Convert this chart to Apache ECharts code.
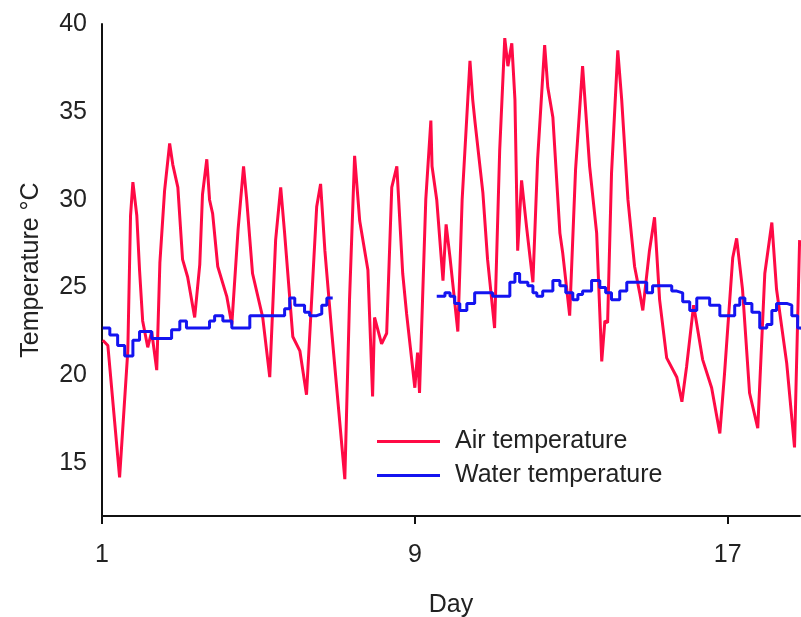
<!DOCTYPE html>
<html>
<head>
<meta charset="utf-8">
<script src="https://cdn.jsdelivr.net/npm/echarts@6/dist/echarts.min.js"></script>
<style>
  html, body { margin: 0; padding: 0; background: #fff; }
  #chart { width: 801px; height: 617px; }
</style>
</head>
<body>
<div id="chart"></div>
<script>
const dayTicks = [1, 9, 17]
const tempTicks = [15, 20, 25, 30, 35, 40]

// air temperature (day, °C)
const airDays = [1.02, 1.15, 1.45, 1.66, 1.73, 1.79, 1.89, 1.96, 2.04, 2.17, 2.27, 2.40, 2.48, 2.60, 2.73, 2.81, 2.94, 3.06, 3.19, 3.37,
  3.50, 3.57, 3.68, 3.75, 3.83, 3.96, 4.19, 4.32, 4.48, 4.62, 4.70, 4.85, 5.11, 5.29, 5.44, 5.57, 5.67, 5.88, 6.06, 6.23,
  6.49, 6.59, 6.70, 6.87, 7.21, 7.33, 7.46, 7.59, 7.80, 7.92, 7.97, 8.15, 8.28, 8.41, 8.54, 8.69, 8.79, 9.00, 9.07, 9.12,
  9.28, 9.41, 9.44, 9.56, 9.72, 9.80, 9.90, 10.10, 10.21, 10.41, 10.48, 10.54, 10.74, 10.86, 11.04, 11.17, 11.30, 11.38, 11.48, 11.56,
  11.63, 11.73, 11.86, 12.02, 12.14, 12.32, 12.40, 12.53, 12.71, 12.78, 12.96, 13.11, 13.29, 13.47, 13.65, 13.78, 13.86, 13.93, 14.03, 14.19,
  14.29, 14.45, 14.62, 14.75, 14.83, 15.00, 15.13, 15.26, 15.44, 15.70, 15.83, 15.95, 16.13, 16.36, 16.59, 16.80, 16.92, 17.13, 17.23, 17.38,
  17.56, 17.77, 17.95, 18.13, 18.25, 18.51, 18.71, 18.84]
const airTemps = [22.0, 21.7, 14.2, 21.4, 29.1, 31.0, 29.1, 26.0, 23.1, 21.6, 22.5, 20.3, 26.4, 30.5, 33.2, 32.0, 30.7, 26.6, 25.6, 23.3,
  26.3, 30.3, 32.3, 30.0, 29.2, 26.2, 24.5, 22.9, 28.3, 31.9, 30.0, 25.8, 23.3, 19.9, 27.7, 30.7, 28.1, 22.2, 21.4, 18.9,
  29.6, 30.9, 27.1, 22.6, 14.1, 24.3, 32.5, 28.8, 26.0, 18.8, 23.3, 21.8, 22.4, 30.7, 31.9, 25.8, 23.5, 19.3, 21.3, 19.0,
  30.0, 34.5, 31.9, 30.0, 25.4, 28.6, 26.7, 22.5, 30.0, 37.9, 35.7, 34.4, 30.4, 26.6, 22.7, 32.8, 39.2, 37.6, 38.9, 35.7,
  27.1, 31.1, 28.4, 25.3, 32.3, 38.8, 36.4, 34.7, 28.1, 27.0, 23.4, 31.7, 37.6, 31.9, 28.1, 20.8, 23.1, 23.0, 31.5, 38.5,
  35.7, 30.0, 26.2, 24.7, 23.7, 27.1, 29.0, 24.3, 21.0, 19.9, 18.5, 20.5, 24.0, 20.9, 19.3, 16.7, 20.1, 26.7, 27.8, 24.9,
  19.0, 17.0, 25.8, 28.7, 24.9, 20.7, 15.9, 27.7]

// water temperature, stepped logger readings; null marks the gap in the record
const waterDays = [1.02, 1.20, 1.40, 1.58, 1.79, 1.96, 2.27, 2.78, 2.99, 3.16, 3.63, 3.75, 3.88, 4.09, 4.32, 4.78, 5.54, 5.67, 5.80, 5.93,
  6.18, 6.31, 6.49, 6.62, 6.75, 6.90, 6.91,
  9.56, 9.77, 9.90, 10.02, 10.15, 10.33, 10.53, 10.91, 10.99, 11.35, 11.43, 11.56, 11.68, 11.89, 12.02, 12.12, 12.27, 12.53, 12.71,
  12.86, 13.04, 13.17, 13.29, 13.52, 13.73, 13.88, 14.03, 14.24, 14.42, 14.93, 15.08, 15.57, 15.70, 15.85, 16.03, 16.21, 16.54, 16.80,
  17.18, 17.31, 17.44, 17.62, 17.82, 18.00, 18.13, 18.25, 18.51, 18.64, 18.79, 18.90]
const waterTemps = [22.7, 22.3, 21.7, 21.1, 22.0, 22.5, 22.1, 22.6, 23.1, 22.7, 22.7, 23.1, 23.4, 23.1, 22.7, 23.4, 23.4, 23.8, 24.4, 24.0,
  23.6, 23.4, 23.5, 24.0, 24.4, 24.4, null,
  24.5, 24.7, 24.5, 24.1, 23.7, 24.1, 24.7, 24.7, 24.5, 24.5, 25.3, 25.8, 25.3, 25.1, 24.7, 24.5, 24.8, 25.4, 25.1,
  24.7, 24.3, 24.6, 24.8, 25.4, 25.0, 24.7, 24.3, 24.8, 25.3, 24.7, 25.1, 24.8, 24.7, 24.2, 23.7, 24.4, 24.0, 23.4,
  24.0, 24.4, 24.1, 23.6, 22.7, 22.9, 23.7, 24.1, 24.0, 23.4, 22.7, 22.6]

const FONT = "'Liberation Sans', Arial, sans-serif"
const chart = echarts.init(document.getElementById('chart'))

const option = {
  animation: false,
  backgroundColor: '#fff',
  textStyle: { fontFamily: FONT },
  grid: { left: 102, right: 1, top: 24, bottom: 101, outerBoundsMode: 'none', containLabel: false },
  legend: {
    orient: 'vertical',
    left: 372,
    top: 424,
    itemWidth: 63,
    itemHeight: 3,
    itemGap: 9,
    icon: 'rect',
    textStyle: { fontSize: 25, color: '#222', fontFamily: FONT, padding: [0, 0, 0, 10] },
    data: ['Air temperature', 'Water temperature']
  },
  xAxis: {
    type: 'value',
    min: 1,
    max: 18.85,
    name: 'Day',
    nameLocation: 'middle',
    nameGap: 77,
    nameTextStyle: { fontSize: 25, color: '#222', fontFamily: FONT },
    axisLine: { lineStyle: { color: '#111', width: 2 } },
    axisTick: { show: true, length: 8, lineStyle: { color: '#111', width: 2 }, customValues: dayTicks },
    axisLabel: { fontSize: 25, color: '#222', margin: 27, fontFamily: FONT, customValues: dayTicks },
    splitLine: { show: false }
  },
  yAxis: {
    type: 'value',
    min: 12,
    max: 40,
    name: 'Temperature °C',
    nameLocation: 'middle',
    nameGap: 58,
    nameTextStyle: { fontSize: 25, color: '#222', fontFamily: FONT },
    axisLine: { show: true, lineStyle: { color: '#111', width: 2 } },
    axisTick: { show: false },
    axisLabel: { fontSize: 25, color: '#222', margin: 15, fontFamily: FONT, customValues: tempTicks },
    splitLine: { show: false }
  },
  series: [
    {
      name: 'Air temperature',
      type: 'line',
      symbol: 'none',
      color: '#ff0a45',
      lineStyle: { width: 3, color: '#ff0a45' },
      data: airDays.map((d, i) => [d, airTemps[i]])
    },
    {
      name: 'Water temperature',
      type: 'line',
      symbol: 'none',
      step: 'end',
      color: '#1414f0',
      lineStyle: { width: 3, color: '#1414f0' },
      data: waterDays.map((d, i) => [d, waterTemps[i] === null ? '-' : waterTemps[i]])
    }
  ]
}

chart.setOption(option)
</script>
</body>
</html>
